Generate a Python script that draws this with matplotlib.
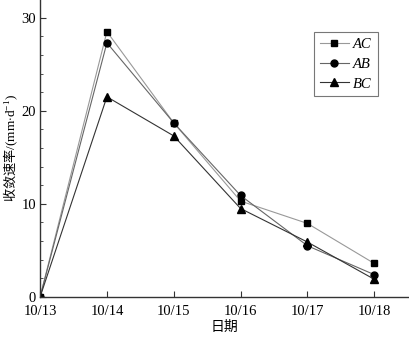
import numpy as np
import matplotlib.pyplot as plt
from matplotlib.ticker import MultipleLocator

# Data
dates = ['10/13', '10/14', '10/15', '10/16', '10/17', '10/18']
rate_ac = [0, 28.5, 18.7, 10.3, 7.9, 3.6]
rate_ab = [0, 27.3, 18.7, 10.9, 5.5, 2.4]
rate_bc = [0, 21.5, 17.3, 9.5, 5.9, 1.9]

plt.rcParams['font.family'] = ['Liberation Serif', 'Noto Sans CJK SC']
plt.rcParams['mathtext.fontset'] = 'custom'
plt.rcParams['mathtext.rm'] = 'Liberation Serif'
plt.rcParams['mathtext.it'] = 'Liberation Serif:italic'
plt.rc('font', size=10)
plt.rc('xtick', labelsize=10.5)
plt.rc('ytick', labelsize=10.5)

fig = plt.figure(figsize=[4.09, 3.39], dpi=100)
ax = fig.add_axes([0.098, 0.124, 0.902, 0.876])
x = np.arange(len(dates))

ax.plot(x, rate_ac, label='AC', color='#999999', lw=0.8,
        marker='s', ms=5, mfc='black', mec='black')
ax.plot(x, rate_ab, label='AB', color='#666666', lw=0.8,
        marker='o', ms=5, mfc='black', mec='black')
ax.plot(x, rate_bc, label='BC', color='#333333', lw=0.8,
        marker='^', ms=6, mfc='black', mec='black')

ax.set_xlim(0, 5.52)
ax.set_ylim(0, 31.9)
ax.set_xticks(x)
ax.set_xticklabels(dates)
ax.yaxis.set_major_locator(MultipleLocator(10))
ax.yaxis.set_minor_locator(MultipleLocator(2))
ax.tick_params(direction='in', which='both', colors='#333333',
               labelcolor='black')
ax.tick_params(which='major', length=4)
ax.tick_params(which='minor', length=2.5)
ax.tick_params(axis='x', pad=6)
ax.tick_params(axis='y', pad=3)
ax.spines['top'].set_visible(False)
ax.spines['right'].set_visible(False)
for s in ['left', 'bottom']:
    ax.spines[s].set_color('#333333')
    ax.spines[s].set_linewidth(1.0)

ax.set_xlabel('日期', family=['Noto Sans CJK SC'], labelpad=1)
ax.set_ylabel(r'收敛速率$\mathrm{/(mm{\cdot}d^{-1})}$',
              family=['Noto Sans CJK SC'], fontsize=9.5, labelpad=1)

leg = ax.legend(loc='upper right', bbox_to_anchor=(0.935, 0.917),
                fancybox=False, edgecolor='#777777', framealpha=1,
                handlelength=2.0, borderpad=0.4, labelspacing=0.45,
                handletextpad=0.3,
                prop={'family': 'Liberation Serif', 'style': 'italic',
                      'size': 10.5})
leg.get_frame().set_linewidth(0.8)

plt.savefig('out.png', dpi=100)
